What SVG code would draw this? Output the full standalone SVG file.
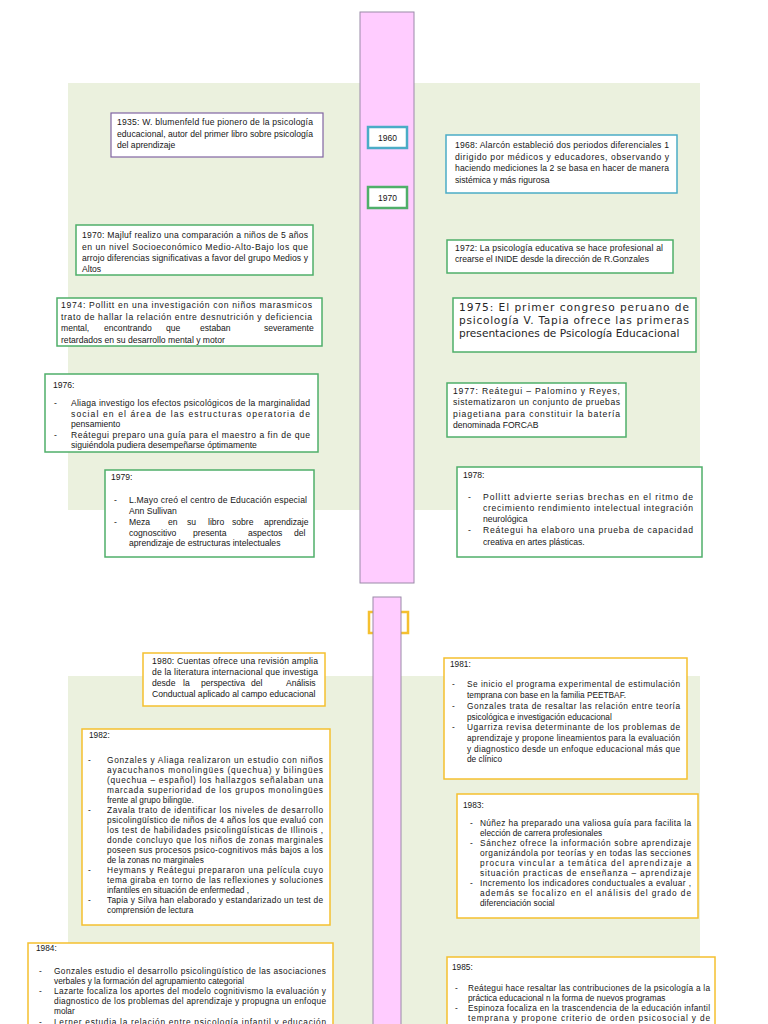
<svg xmlns="http://www.w3.org/2000/svg" width="768" height="1024" viewBox="0 0 768 1024">
<style>
.bg{fill:#ebf1de}
.bar{fill:#ffccff;stroke:#9a8aa8;stroke-width:1}
.g{fill:#fff;stroke:#4faf6a;stroke-width:1.5}
.b{fill:#fff;stroke:#4bacc6;stroke-width:1.5}
.p{fill:#fff;stroke:#8064a2;stroke-width:1.2}
.y{fill:#fff;stroke:#f5c02f;stroke-width:1.5}
.lb{fill:#fff;stroke-width:2.5}
text{font-family:"Liberation Sans",Arial,sans-serif;font-size:8.6px;fill:#161616}
.s text{font-size:8.3px}
.dv{font-family:"DejaVu Sans",Verdana,sans-serif;font-size:10.6px;fill:#262626}
.c{text-anchor:middle;font-size:8.5px}
</style>
<rect width="768" height="1024" fill="#fff"/>
<rect class="bg" x="68" y="83" width="632" height="427"/>
<rect class="bg" x="68" y="676" width="632" height="360"/>
<g id="timeline">
<rect class="bar" x="360" y="12" width="54" height="571"/>
<rect x="369" y="612" width="39" height="21" fill="#fff" stroke="#f5c02f" stroke-width="2.5"/>
<rect class="bar" x="373" y="597" width="28" height="440"/>
</g>
<g id="label-1960"><rect class="lb" x="368" y="127" width="39" height="21" stroke="#4bacc6"/><text class="c" x="387.5" y="140.5">1960</text></g>
<g id="label-1970"><rect class="lb" x="368" y="187" width="39" height="21" stroke="#4faf6a"/><text class="c" x="387.5" y="200.5">1970</text></g>

<g id="n1935"><rect class="p" x="111" y="113" width="212" height="44"/>
<text x="117" y="125" textLength="196" lengthAdjust="spacing">1935: W. blumenfeld fue pionero de la psicología</text>
<text x="117" y="136.5" textLength="196" lengthAdjust="spacing">educacional, autor del primer libro sobre psicología</text>
<text x="117" y="148">del aprendizaje</text></g>

<g id="n1968"><rect class="b" x="446" y="135" width="231" height="58"/>
<text x="455" y="148" textLength="214" lengthAdjust="spacing">1968: Alarcón estableció dos periodos diferenciales 1</text>
<text x="455" y="160" textLength="214" lengthAdjust="spacing">dirigido por médicos  y educadores, observando y</text>
<text x="455" y="171" textLength="214" lengthAdjust="spacing">haciendo mediciones la 2 se basa en hacer de manera</text>
<text x="455" y="183">sistémica y más rigurosa</text></g>

<g id="n1970"><rect class="g" x="76" y="225" width="237" height="50"/>
<text x="82" y="238" textLength="226" lengthAdjust="spacing">1970: Majluf realizo una comparación a niños de 5 años</text>
<text x="82" y="249.5" textLength="226" lengthAdjust="spacing">en un nivel Socioeconómico Medio-Alto-Bajo los que</text>
<text x="82" y="260.5" textLength="226" lengthAdjust="spacing">arrojo diferencias significativas a favor del grupo Medios y</text>
<text x="82" y="271.5">Altos</text></g>

<g id="n1972"><rect class="g" x="447" y="240" width="226" height="33"/>
<text x="455" y="250.5" textLength="208" lengthAdjust="spacing">1972: La psicología educativa  se hace profesional  al</text>
<text x="455" y="261.5">crearse el INIDE desde la dirección de R.Gonzales</text></g>

<g id="n1974"><rect class="g" x="57" y="298" width="265" height="48"/>
<text x="61" y="308" textLength="251" lengthAdjust="spacing">1974: Pollitt en una investigación con niños marasmicos</text>
<text x="61" y="319.5" textLength="251" lengthAdjust="spacing">trato de hallar la relación entre desnutrición y deficiencia</text>
<text y="331"><tspan x="61">mental,</tspan><tspan x="104">encontrando</tspan><tspan x="166">que</tspan><tspan x="200">estaban</tspan><tspan x="264">severamente</tspan></text>
<text x="61" y="342.5">retardados en su desarrollo mental y motor</text></g>

<g id="n1975"><rect class="g" x="453" y="298" width="243" height="54"/>
<text class="dv" x="459" y="311" textLength="230" lengthAdjust="spacing">1975: El primer congreso peruano de</text>
<text class="dv" x="459" y="324" textLength="230" lengthAdjust="spacing">psicología V. Tapia ofrece las primeras</text>
<text class="dv" x="459" y="337">presentaciones de Psicología Educacional</text></g>

<g id="n1976"><rect class="g" x="45" y="374" width="273" height="78"/>
<text x="53" y="388">1976:</text>
<text x="54" y="406">-</text>
<text x="71" y="406" textLength="239" lengthAdjust="spacing">Aliaga investigo los efectos psicológicos de la marginalidad</text>
<text x="71" y="416.5" textLength="239" lengthAdjust="spacing">social en el área de las estructuras operatoria de</text>
<text x="71" y="427">pensamiento</text>
<text x="54" y="437.5">-</text>
<text x="71" y="437.5" textLength="239" lengthAdjust="spacing">Reátegui  preparo una guía para el maestro a fin de que</text>
<text x="71" y="448">siguiéndola pudiera desempeñarse óptimamente</text></g>

<g id="n1977"><rect class="g" x="447" y="383" width="179" height="54"/>
<text x="453" y="393.5" textLength="167" lengthAdjust="spacing">1977: Reátegui – Palomino y Reyes,</text>
<text x="453" y="405" textLength="167" lengthAdjust="spacing">sistematizaron un conjunto de pruebas</text>
<text x="453" y="416.5" textLength="167" lengthAdjust="spacing">piagetiana para constituir la batería</text>
<text x="453" y="428">denominada FORCAB</text></g>

<g id="n1979"><rect class="g" x="105" y="470" width="209" height="87"/>
<text x="111" y="480">1979:</text>
<text x="114" y="503">-</text>
<text x="129" y="503" textLength="178" lengthAdjust="spacing">L.Mayo creó el centro de Educación especial</text>
<text x="129" y="513.5">Ann Sullivan</text>
<text x="114" y="525">-</text>
<text y="525"><tspan x="129">Meza</tspan><tspan x="168">en</tspan><tspan x="187">su</tspan><tspan x="208">libro</tspan><tspan x="232">sobre</tspan><tspan x="264">aprendizaje</tspan></text>
<text y="535.5"><tspan x="129">cognoscitivo</tspan><tspan x="193">presenta</tspan><tspan x="248">aspectos</tspan><tspan x="294">del</tspan></text>
<text x="129" y="546">aprendizaje de estructuras intelectuales</text></g>

<g id="n1978"><rect class="g" x="457" y="467" width="245" height="90"/>
<text x="463" y="478">1978:</text>
<text x="468" y="500">-</text>
<text x="483" y="500" textLength="210" lengthAdjust="spacing">Pollitt advierte serias brechas en el ritmo de</text>
<text x="483" y="511" textLength="210" lengthAdjust="spacing">crecimiento rendimiento intelectual integración</text>
<text x="483" y="521.5">neurológica</text>
<text x="468" y="533">-</text>
<text x="483" y="533" textLength="210" lengthAdjust="spacing">Reátegui ha elaboro una prueba de capacidad</text>
<text x="483" y="545">creativa en artes plásticas.</text></g>

<g id="n1980"><rect class="y" x="143" y="653" width="182" height="53"/>
<text x="152" y="664" textLength="166" lengthAdjust="spacing">1980: Cuentas ofrece una revisión amplia</text>
<text x="152" y="675" textLength="166" lengthAdjust="spacing">de la literatura internacional que investiga</text>
<text y="686"><tspan x="152">desde</tspan><tspan x="183">la</tspan><tspan x="201">perspectiva</tspan><tspan x="251">del</tspan><tspan x="286">Análisis</tspan></text>
<text x="152" y="696.5">Conductual aplicado al campo educacional</text></g>

<g class="s">
<g id="n1981"><rect class="y" x="444" y="658" width="243" height="121"/>
<text x="450" y="666.5">1981:</text>
<text x="452" y="687">-</text>
<text x="467" y="687" textLength="213" lengthAdjust="spacing">Se inicio el programa experimental de estimulación</text>
<text x="467" y="698">temprana con base en la familia PEETBAF.</text>
<text x="452" y="709">-</text>
<text x="467" y="709" textLength="213" lengthAdjust="spacing">Gonzales trata de resaltar las relación entre teoría</text>
<text x="467" y="719.5">psicológica e investigación educacional</text>
<text x="452" y="730">-</text>
<text x="467" y="730" textLength="213" lengthAdjust="spacing">Ugarriza revisa determinante de los problemas de</text>
<text x="467" y="741" textLength="213" lengthAdjust="spacing">aprendizaje y propone lineamientos para la evaluación</text>
<text x="467" y="751.5" textLength="213" lengthAdjust="spacing">y diagnostico desde un enfoque educacional más que</text>
<text x="467" y="761.5">de clínico</text></g>

<g id="n1982"><rect class="y" x="82" y="729" width="248" height="196"/>
<text x="89" y="738">1982:</text>
<text x="88" y="763">-</text>
<text x="107" y="763" textLength="216" lengthAdjust="spacing">Gonzales y Aliaga realizaron un estudio con niños</text>
<text x="107" y="773" textLength="216" lengthAdjust="spacing">ayacuchanos monolingües (quechua)  y  bilingües</text>
<text x="107" y="783" textLength="216" lengthAdjust="spacing">(quechua – español) los hallazgos señalaban una</text>
<text x="107" y="793" textLength="216" lengthAdjust="spacing">marcada superioridad de los grupos monolingües</text>
<text x="107" y="802.5">frente al grupo bilingüe.</text>
<text x="88" y="812.5">-</text>
<text x="107" y="812.5" textLength="216" lengthAdjust="spacing">Zavala trato de identificar los niveles de desarrollo</text>
<text x="107" y="822.5" textLength="216" lengthAdjust="spacing">psicolingüístico de niños de 4 años los que evaluó con</text>
<text x="107" y="832.5" textLength="216" lengthAdjust="spacing">los test de habilidades psicolingüísticas de Illinois ,</text>
<text x="107" y="843" textLength="216" lengthAdjust="spacing">donde concluyo que los niños de zonas marginales</text>
<text x="107" y="853" textLength="216" lengthAdjust="spacing">poseen sus procesos psico-cognitivos más bajos a los</text>
<text x="107" y="862.5">de la zonas  no marginales</text>
<text x="88" y="872.5">-</text>
<text x="107" y="872.5" textLength="216" lengthAdjust="spacing">Heymans y Reátegui prepararon una película cuyo</text>
<text x="107" y="882.5" textLength="216" lengthAdjust="spacing">tema giraba en torno de las reflexiones y soluciones</text>
<text x="107" y="892.5">infantiles en situación de enfermedad ,</text>
<text x="88" y="903">-</text>
<text x="107" y="903" textLength="216" lengthAdjust="spacing">Tapia y Silva han elaborado y estandarizado un test de</text>
<text x="107" y="913">comprensión de lectura</text></g>

<g id="n1983"><rect class="y" x="457" y="794" width="241" height="124"/>
<text x="463" y="808">1983:</text>
<text x="470" y="826">-</text>
<text x="480" y="826" textLength="211" lengthAdjust="spacing">Núñez ha preparado una valiosa guía para facilita la</text>
<text x="480" y="836">elección de carrera profesionales</text>
<text x="470" y="846">-</text>
<text x="480" y="846" textLength="211" lengthAdjust="spacing">Sánchez ofrece la información sobre aprendizaje</text>
<text x="480" y="856" textLength="211" lengthAdjust="spacing">organizándola por teorías y en todas las secciones</text>
<text x="480" y="866" textLength="211" lengthAdjust="spacing">procura vincular a temática del aprendizaje a</text>
<text x="480" y="876" textLength="211" lengthAdjust="spacing">situación practicas de enseñanza – aprendizaje</text>
<text x="470" y="886">-</text>
<text x="480" y="886" textLength="211" lengthAdjust="spacing">Incremento los indicadores conductuales a evaluar ,</text>
<text x="480" y="896" textLength="211" lengthAdjust="spacing">además se focalizo en el análisis del grado de</text>
<text x="480" y="906">diferenciación social</text></g>

<g id="n1984"><rect class="y" x="28" y="943" width="305" height="100"/>
<text x="36" y="951">1984:</text>
<text x="39" y="974">-</text>
<text x="54" y="974" textLength="272" lengthAdjust="spacing">Gonzales estudio el desarrollo psicolingüístico de las asociaciones</text>
<text x="54" y="984">verbales y la formación del agrupamiento categorial</text>
<text x="39" y="994">-</text>
<text x="54" y="994" textLength="272" lengthAdjust="spacing">Lazarte focaliza los aportes del modelo cognitivismo  la evaluación y</text>
<text x="54" y="1004" textLength="272" lengthAdjust="spacing">diagnostico de los problemas del aprendizaje y propugna un enfoque</text>
<text x="54" y="1014">molar</text>
<text x="39" y="1024.5">-</text>
<text x="54" y="1024.5" textLength="272" lengthAdjust="spacing">Lerner estudia la relación entre psicología infantil y educación</text></g>

<g id="n1985"><rect class="y" x="447" y="957" width="268" height="80"/>
<text x="452" y="970">1985:</text>
<text x="455" y="991">-</text>
<text x="468" y="991" textLength="242" lengthAdjust="spacing">Reátegui hace resaltar las contribuciones de la psicología a la</text>
<text x="468" y="1001">práctica educacional n la forma de nuevos programas</text>
<text x="455" y="1011">-</text>
<text x="468" y="1011" textLength="242" lengthAdjust="spacing">Espinoza focaliza en la trascendencia de la educación infantil</text>
<text x="468" y="1021" textLength="242" lengthAdjust="spacing">temprana y propone criterio de orden psicosocial y de</text></g>
</g>
</svg>
